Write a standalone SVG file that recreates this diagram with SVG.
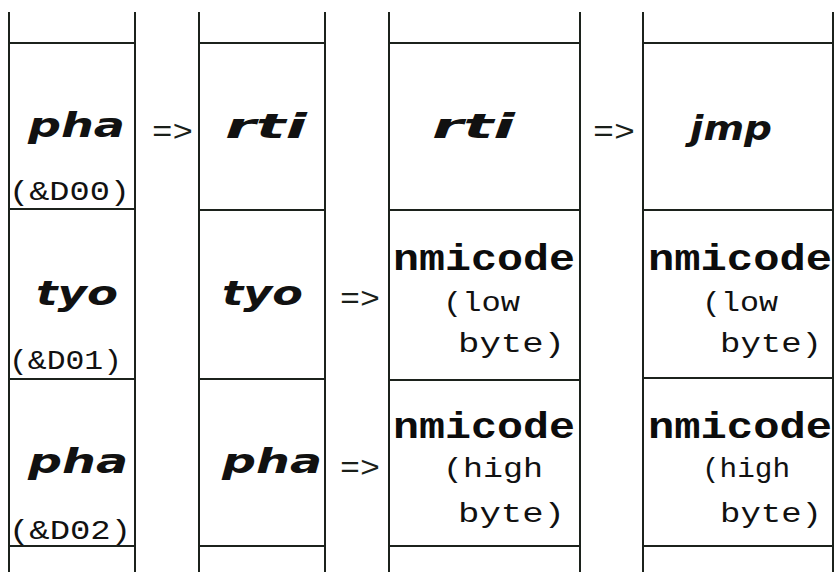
<svg xmlns="http://www.w3.org/2000/svg" width="834" height="572" viewBox="0 0 834 572">
<style>
.ln{stroke:#1c221c;stroke-width:2;fill:none}
.mn{font-family:"DejaVu Sans",sans-serif;font-style:italic;font-weight:bold;font-size:34px;fill:#111}
.px{font-family:"Liberation Mono","DejaVu Sans Mono",monospace;font-size:28px;fill:#111}
.bd{font-family:"Liberation Mono","DejaVu Sans Mono",monospace;font-weight:bold;font-size:36px;fill:#0c0c0c}
.ar{font-family:"Liberation Mono","DejaVu Sans Mono",monospace;font-size:30px;fill:#1a1f1a}
</style>
<rect width="834" height="572" fill="#fff"/>
<g id="col1">
<path class="ln" d="M9 12V572M135 12V572M9 43H135M9 209H135M9 379H135M9 546H135"/>
<g id="c1r1"><text class="mn" x="28" y="137" textLength="97" lengthAdjust="spacingAndGlyphs">pha</text><text class="px" x="9" y="200" textLength="121" lengthAdjust="spacingAndGlyphs">(&amp;D00)</text></g>
<g id="c1r2"><text class="mn" x="36" y="305" textLength="82" lengthAdjust="spacingAndGlyphs">tyo</text><text class="px" x="9" y="369" textLength="113" lengthAdjust="spacingAndGlyphs">(&amp;D01)</text></g>
<g id="c1r3"><text class="mn" x="28" y="473" textLength="100" lengthAdjust="spacingAndGlyphs">pha</text><text class="px" x="9" y="539" textLength="122" lengthAdjust="spacingAndGlyphs">(&amp;D02)</text></g>
</g>
<g id="col2">
<path class="ln" d="M199 12V572M325 12V572M199 43H325M199 210H325M199 379H325M199 546H325"/>
<g id="c2r1"><text class="mn" x="225" y="138" textLength="82" lengthAdjust="spacingAndGlyphs">rti</text></g>
<g id="c2r2"><text class="mn" x="222" y="305" textLength="81" lengthAdjust="spacingAndGlyphs">tyo</text></g>
<g id="c2r3"><text class="mn" x="222" y="473" textLength="100" lengthAdjust="spacingAndGlyphs">pha</text></g>
</g>
<g id="col3">
<path class="ln" d="M389 12V572M580 12V572M389 43H580M389 210H580M389 380H580M389 546H580"/>
<g id="c3r1"><text class="mn" x="432" y="138" textLength="83" lengthAdjust="spacingAndGlyphs">rti</text></g>
<g id="c3r2"><text class="bd" x="393" y="270" textLength="182" lengthAdjust="spacingAndGlyphs">nmicode</text><text class="px" x="443" y="311" textLength="77" lengthAdjust="spacingAndGlyphs">(low</text><text class="px" x="458" y="352" textLength="107" lengthAdjust="spacingAndGlyphs">byte)</text></g>
<g id="c3r3"><text class="bd" x="393" y="438" textLength="182" lengthAdjust="spacingAndGlyphs">nmicode</text><text class="px" x="443" y="477" textLength="100" lengthAdjust="spacingAndGlyphs">(high</text><text class="px" x="458" y="522" textLength="107" lengthAdjust="spacingAndGlyphs">byte)</text></g>
</g>
<g id="col4">
<path class="ln" d="M643 12V572M833 12V572M643 43H833M643 210H833M643 378H833M643 546H833"/>
<g id="c4r1"><text class="mn" x="690" y="140" textLength="82" lengthAdjust="spacingAndGlyphs">jmp</text></g>
<g id="c4r2"><text class="bd" x="648" y="270" textLength="184" lengthAdjust="spacingAndGlyphs">nmicode</text><text class="px" x="702" y="311" textLength="76" lengthAdjust="spacingAndGlyphs">(low</text><text class="px" x="720" y="352" textLength="102" lengthAdjust="spacingAndGlyphs">byte)</text></g>
<g id="c4r3"><text class="bd" x="648" y="438" textLength="184" lengthAdjust="spacingAndGlyphs">nmicode</text><text class="px" x="702" y="477" textLength="88" lengthAdjust="spacingAndGlyphs">(high</text><text class="px" x="720" y="522" textLength="102" lengthAdjust="spacingAndGlyphs">byte)</text></g>
</g>
<g id="connectors">
<text class="ar" x="152" y="141" textLength="41" lengthAdjust="spacingAndGlyphs">=&gt;</text>
<text class="ar" x="593" y="141" textLength="42" lengthAdjust="spacingAndGlyphs">=&gt;</text>
<text class="ar" x="340" y="308" textLength="40" lengthAdjust="spacingAndGlyphs">=&gt;</text>
<text class="ar" x="340" y="477" textLength="40" lengthAdjust="spacingAndGlyphs">=&gt;</text>
</g>
</svg>
